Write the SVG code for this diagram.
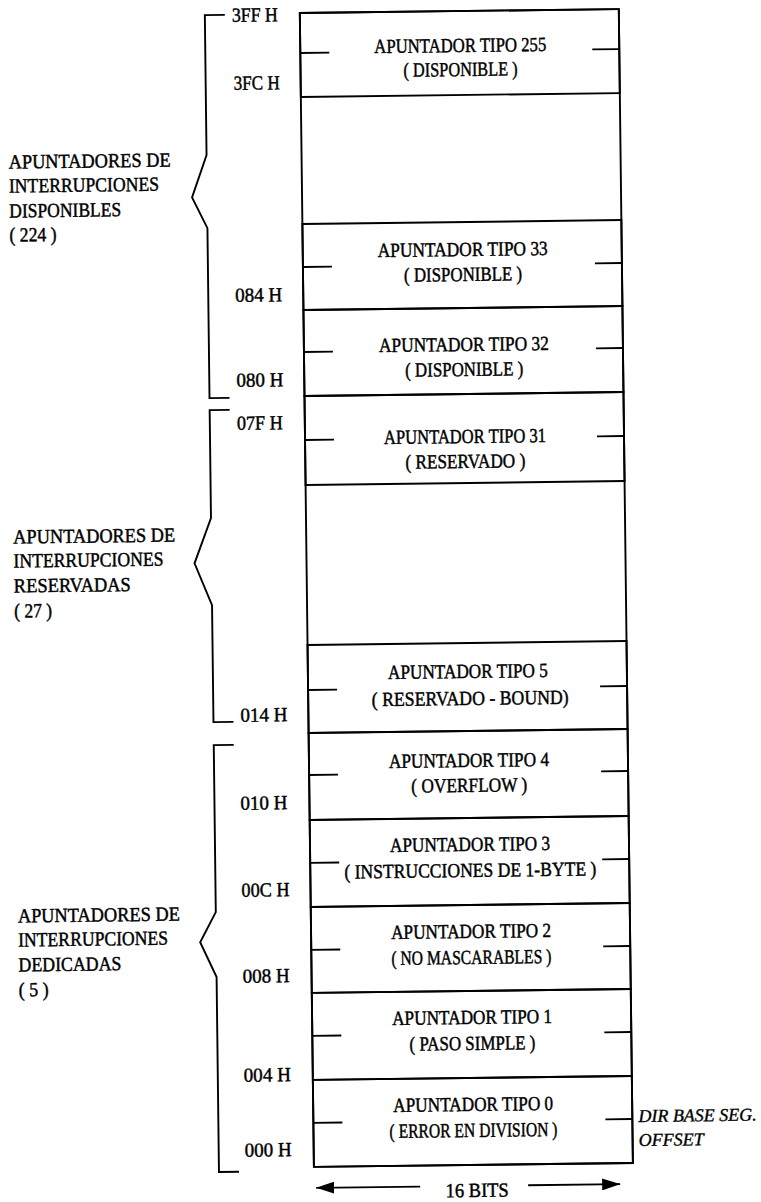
<svg xmlns="http://www.w3.org/2000/svg" width="761" height="1202" viewBox="0 0 761 1202">
<style>
.ln{fill:none;stroke:#000;stroke-width:1.9}
.t{font-family:"Liberation Serif","Times New Roman",serif;font-size:20px;fill:#000;stroke:#000;stroke-width:0.45}
.c{text-anchor:middle}
.it{font-family:"Liberation Serif","Times New Roman",serif;font-size:18px;font-style:italic;fill:#000;stroke:#000;stroke-width:0.35}
</style>
<defs>
<marker id="ah" markerUnits="userSpaceOnUse" markerWidth="18" markerHeight="12" refX="18" refY="6" orient="auto">
<path d="M0,0 L18,6 L0,12 z" fill="#000"/>
</marker>
</defs>
<rect width="761" height="1202" fill="#fff"/>
<g transform="rotate(-0.7 466 600)">
<g id="memory-box">
<rect class="ln" x="307" y="11" width="319" height="1154"/>
</g>
<g id="row-255">
<rect class="ln" x="307" y="11" width="319" height="84"/>
<path class="ln" d="M307,51 H336 M599,51 H626"/>
<text class="t c" x="467" y="52" textLength="172" lengthAdjust="spacingAndGlyphs">APUNTADOR TIPO 255</text>
<text class="t c" x="467" y="76" textLength="114" lengthAdjust="spacingAndGlyphs">( DISPONIBLE )</text>
</g>
<g id="row-33">
<rect class="ln" x="307" y="222" width="319" height="86"/>
<path class="ln" d="M307,265 H336 M599,265 H626"/>
<text class="t c" x="467" y="256" textLength="170" lengthAdjust="spacingAndGlyphs">APUNTADOR TIPO 33</text>
<text class="t c" x="467" y="281" textLength="118" lengthAdjust="spacingAndGlyphs">( DISPONIBLE )</text>
</g>
<g id="row-32">
<rect class="ln" x="307" y="308" width="319" height="86"/>
<path class="ln" d="M307,350 H336 M599,350 H626"/>
<text class="t c" x="467" y="351" textLength="170" lengthAdjust="spacingAndGlyphs">APUNTADOR TIPO 32</text>
<text class="t c" x="467" y="376" textLength="118" lengthAdjust="spacingAndGlyphs">( DISPONIBLE )</text>
</g>
<g id="row-31">
<rect class="ln" x="307" y="394" width="319" height="89"/>
<path class="ln" d="M307,438 H336 M599,438 H626"/>
<text class="t c" x="467" y="443" textLength="162" lengthAdjust="spacingAndGlyphs">APUNTADOR TIPO 31</text>
<text class="t c" x="467" y="468" textLength="120" lengthAdjust="spacingAndGlyphs">( RESERVADO )</text>
</g>
<g id="row-5">
<rect class="ln" x="307" y="643" width="319" height="88"/>
<path class="ln" d="M307,688 H336 M599,688 H626"/>
<text class="t c" x="467" y="678" textLength="160" lengthAdjust="spacingAndGlyphs">APUNTADOR TIPO 5</text>
<text class="t c" x="469" y="705" textLength="197" lengthAdjust="spacingAndGlyphs">( RESERVADO - BOUND)</text>
</g>
<g id="row-4">
<rect class="ln" x="307" y="731" width="319" height="87"/>
<path class="ln" d="M307,773 H336 M599,773 H626"/>
<text class="t c" x="467" y="767" textLength="160" lengthAdjust="spacingAndGlyphs">APUNTADOR TIPO 4</text>
<text class="t c" x="467" y="792" textLength="116" lengthAdjust="spacingAndGlyphs">( OVERFLOW )</text>
</g>
<g id="row-3">
<rect class="ln" x="307" y="818" width="319" height="87"/>
<path class="ln" d="M307,861 H336 M599,861 H626"/>
<text class="t c" x="467" y="851" textLength="160" lengthAdjust="spacingAndGlyphs">APUNTADOR TIPO 3</text>
<text class="t c" x="467" y="877" textLength="252" lengthAdjust="spacingAndGlyphs">( INSTRUCCIONES DE 1-BYTE )</text>
</g>
<g id="row-2">
<rect class="ln" x="307" y="905" width="319" height="86"/>
<path class="ln" d="M307,948 H336 M599,948 H626"/>
<text class="t c" x="467" y="938" textLength="160" lengthAdjust="spacingAndGlyphs">APUNTADOR TIPO 2</text>
<text class="t c" x="467" y="964" textLength="160" lengthAdjust="spacingAndGlyphs">( NO MASCARABLES )</text>
</g>
<g id="row-1">
<rect class="ln" x="307" y="991" width="319" height="87"/>
<path class="ln" d="M307,1034 H336 M599,1034 H626"/>
<text class="t c" x="467" y="1024" textLength="160" lengthAdjust="spacingAndGlyphs">APUNTADOR TIPO 1</text>
<text class="t c" x="467" y="1050" textLength="126" lengthAdjust="spacingAndGlyphs">( PASO SIMPLE )</text>
</g>
<g id="row-0">
<rect class="ln" x="307" y="1078" width="319" height="87"/>
<path class="ln" d="M307,1121 H336 M599,1121 H626"/>
<text class="t c" x="467" y="1111" textLength="160" lengthAdjust="spacingAndGlyphs">APUNTADOR TIPO 0</text>
<text class="t c" x="467" y="1137" textLength="168" lengthAdjust="spacingAndGlyphs">( ERROR EN DIVISION )</text>
</g>
<g id="seg-offset">
<text class="it" x="632" y="1124">DIR  BASE SEG.</text>
<text class="it" x="632" y="1148">OFFSET</text>
</g>
<g id="addresses">
<text class="t" x="239" y="19" textLength="46" lengthAdjust="spacingAndGlyphs">3FF H</text>
<text class="t" x="240" y="87" textLength="46" lengthAdjust="spacingAndGlyphs">3FC H</text>
<text class="t" x="239" y="299" textLength="47" lengthAdjust="spacingAndGlyphs">084 H</text>
<text class="t" x="239" y="384" textLength="47" lengthAdjust="spacingAndGlyphs">080 H</text>
<text class="t" x="239" y="427" textLength="46" lengthAdjust="spacingAndGlyphs">07F H</text>
<text class="t" x="239" y="719" textLength="47" lengthAdjust="spacingAndGlyphs">014 H</text>
<text class="t" x="238" y="807" textLength="47" lengthAdjust="spacingAndGlyphs">010 H</text>
<text class="t" x="238" y="894" textLength="48" lengthAdjust="spacingAndGlyphs">00C H</text>
<text class="t" x="238" y="980" textLength="47" lengthAdjust="spacingAndGlyphs">008 H</text>
<text class="t" x="238" y="1079" textLength="47" lengthAdjust="spacingAndGlyphs">004 H</text>
<text class="t" x="238" y="1154" textLength="47" lengthAdjust="spacingAndGlyphs">000 H</text>
</g>
<g id="group-disponibles">
<path class="ln" d="M232,12 H212 V152 L197,194 L212,225 V395 H232"/>
<text class="t" x="14" y="163" textLength="162" lengthAdjust="spacingAndGlyphs">APUNTADORES DE</text>
<text class="t" x="14" y="187" textLength="150" lengthAdjust="spacingAndGlyphs">INTERRUPCIONES</text>
<text class="t" x="14" y="212" textLength="112" lengthAdjust="spacingAndGlyphs">DISPONIBLES</text>
<text class="t" x="14" y="236" textLength="47" lengthAdjust="spacingAndGlyphs">( 224 )</text>
</g>
<g id="group-reservadas">
<path class="ln" d="M232,407 H212 V515 L195,560 L212,602 V719 H232"/>
<text class="t" x="14" y="538" textLength="162" lengthAdjust="spacingAndGlyphs">APUNTADORES DE</text>
<text class="t" x="14" y="562" textLength="150" lengthAdjust="spacingAndGlyphs">INTERRUPCIONES</text>
<text class="t" x="14" y="587" textLength="117" lengthAdjust="spacingAndGlyphs">RESERVADAS</text>
<text class="t" x="14" y="612" textLength="38" lengthAdjust="spacingAndGlyphs">( 27 )</text>
</g>
<g id="group-dedicadas">
<path class="ln" d="M232,742 H212 V909 L196,939 L212,974 V1169 H232"/>
<text class="t" x="14" y="917" textLength="162" lengthAdjust="spacingAndGlyphs">APUNTADORES DE</text>
<text class="t" x="14" y="941" textLength="150" lengthAdjust="spacingAndGlyphs">INTERRUPCIONES</text>
<text class="t" x="14" y="966" textLength="103" lengthAdjust="spacingAndGlyphs">DEDICADAS</text>
<text class="t" x="14" y="991" textLength="30" lengthAdjust="spacingAndGlyphs">( 5 )</text>
</g>
<g id="connectors">
<path class="ln" d="M413,1186 H309" marker-end="url(#ah)"/>
<path class="ln" d="M521,1186 H613" marker-end="url(#ah)"/>
<text class="t c" x="470" y="1197" textLength="63" lengthAdjust="spacingAndGlyphs">16 BITS</text>
</g>
</g>
</svg>
